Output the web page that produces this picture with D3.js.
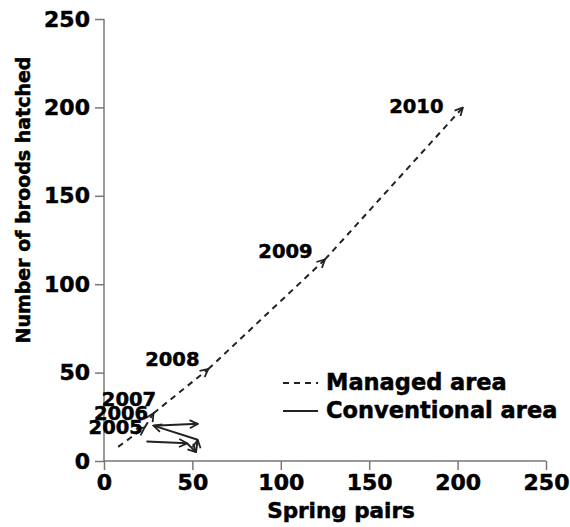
<!DOCTYPE html>
<html>
<head>
<meta charset="utf-8">
<script src="https://cdn.jsdelivr.net/npm/d3@7"></script>
<style>
  body { margin: 0; background: #fff; }
  text { font-family: "DejaVu Sans", sans-serif; font-weight: bold; fill: #000; stroke: #000; stroke-width: 0.5px; }
</style>
</head>
<body>
<svg id="chart"></svg>
<script>
// values (spring pairs, broods hatched)
const years = ["2005", "2006", "2007", "2008", "2009", "2010"];
const managedPairs = [8, 23, 28, 59, 125, 203];
const managedBroods = [8, 19, 27, 52, 114, 200];
const conventionalPairs = [24, 47, 52, 53, 28, 53];
const conventionalBroods = [11, 10, 5, 12, 20, 21];
// where each year label sits, in data units (end of text, baseline)
const labelPairs = [22, 25, 29.5, 54, 118, 192];
const labelBroods = [15, 23.2, 31.2, 54, 115, 197];
const ticks = [0, 50, 100, 150, 200, 250];

const width = 570, height = 527;
const margin = {top: 19, right: 24, bottom: 66, left: 104};

const svg = d3.select("#chart")
    .attr("width", width)
    .attr("height", height);

const x = d3.scaleLinear().domain([0, 250]).range([margin.left, width - margin.right]);
const y = d3.scaleLinear().domain([0, 250]).range([height - margin.bottom, margin.top]);

// arrow head marker
svg.append("defs").append("marker")
    .attr("id", "arrow")
    .attr("viewBox", "0 0 10 10")
    .attr("refX", 9).attr("refY", 5)
    .attr("markerWidth", 10).attr("markerHeight", 10)
    .attr("markerUnits", "userSpaceOnUse")
    .attr("orient", "auto")
  .append("path")
    .attr("d", "M1,1 L9,5 L1,9")
    .attr("fill", "none")
    .attr("stroke", "#222")
    .attr("stroke-width", 1.8);

const xAxis = g => g
    .attr("transform", `translate(0,${y(0)})`)
    .call(d3.axisBottom(x).tickValues(ticks).tickSize(9).tickPadding(4))
    .call(g => g.select(".domain").remove())
    .call(g => g.selectAll(".tick line").attr("stroke", "#777").attr("stroke-width", 1.5))
    .call(g => g.selectAll("text").attr("font-size", 22).attr("font-family", null));

const yAxis = g => g
    .attr("transform", `translate(${x(0)},0)`)
    .call(d3.axisLeft(y).tickValues(ticks).tickSize(9).tickPadding(5))
    .call(g => g.select(".domain").remove())
    .call(g => g.selectAll(".tick line").attr("stroke", "#777").attr("stroke-width", 1.5))
    .call(g => g.selectAll("text").attr("font-size", 22).attr("font-family", null));

svg.append("g").call(xAxis);
svg.append("g").call(yAxis);

// axis lines
svg.append("line")
    .attr("x1", x(0)).attr("x2", x(250))
    .attr("y1", y(0)).attr("y2", y(0))
    .attr("stroke", "#777").attr("stroke-width", 1.5);
svg.append("line")
    .attr("x1", x(0)).attr("x2", x(0))
    .attr("y1", y(0)).attr("y2", y(250))
    .attr("stroke", "#777").attr("stroke-width", 1.5);

// axis titles
svg.append("text")
    .attr("x", 341).attr("y", 518)
    .attr("text-anchor", "middle")
    .attr("font-size", 21.5)
    .text("Spring pairs");

svg.append("text")
    .attr("transform", "translate(30,200) rotate(-90)")
    .attr("text-anchor", "middle")
    .attr("font-size", 19)
    .text("Number of broods hatched");

function segments(px, py) {
  return d3.range(px.length - 1).map(i => ({
    x1: px[i], y1: py[i], x2: px[i + 1], y2: py[i + 1]
  }));
}

svg.append("g")
  .selectAll("line")
  .data(segments(conventionalPairs, conventionalBroods))
  .join("line")
    .attr("x1", d => x(d.x1)).attr("y1", d => y(d.y1))
    .attr("x2", d => x(d.x2)).attr("y2", d => y(d.y2))
    .attr("stroke", "#222")
    .attr("stroke-width", 2)
    .attr("marker-end", "url(#arrow)");

svg.append("g")
  .selectAll("line")
  .data(segments(managedPairs, managedBroods))
  .join("line")
    .attr("x1", d => x(d.x1)).attr("y1", d => y(d.y1))
    .attr("x2", d => x(d.x2)).attr("y2", d => y(d.y2))
    .attr("stroke", "#222")
    .attr("stroke-width", 2)
    .attr("stroke-dasharray", "6,5")
    .attr("marker-end", "url(#arrow)");

// year labels
svg.append("g")
  .selectAll("text")
  .data(years)
  .join("text")
    .attr("x", (d, i) => x(labelPairs[i]))
    .attr("y", (d, i) => y(labelBroods[i]))
    .attr("text-anchor", "end")
    .attr("font-size", 19.5)
    .text(d => d);

// legend
const legend = svg.append("g");
legend.append("line")
    .attr("x1", 283).attr("x2", 318).attr("y1", 383).attr("y2", 383)
    .attr("stroke", "#222").attr("stroke-width", 2)
    .attr("stroke-dasharray", "6,5");
legend.append("text")
    .attr("x", 326).attr("y", 390)
    .attr("font-size", 22.5)
    .text("Managed area");
legend.append("line")
    .attr("x1", 283).attr("x2", 318).attr("y1", 411).attr("y2", 411)
    .attr("stroke", "#222").attr("stroke-width", 2);
legend.append("text")
    .attr("x", 326).attr("y", 418)
    .attr("font-size", 22.5)
    .text("Conventional area");
</script>
</body>
</html>
